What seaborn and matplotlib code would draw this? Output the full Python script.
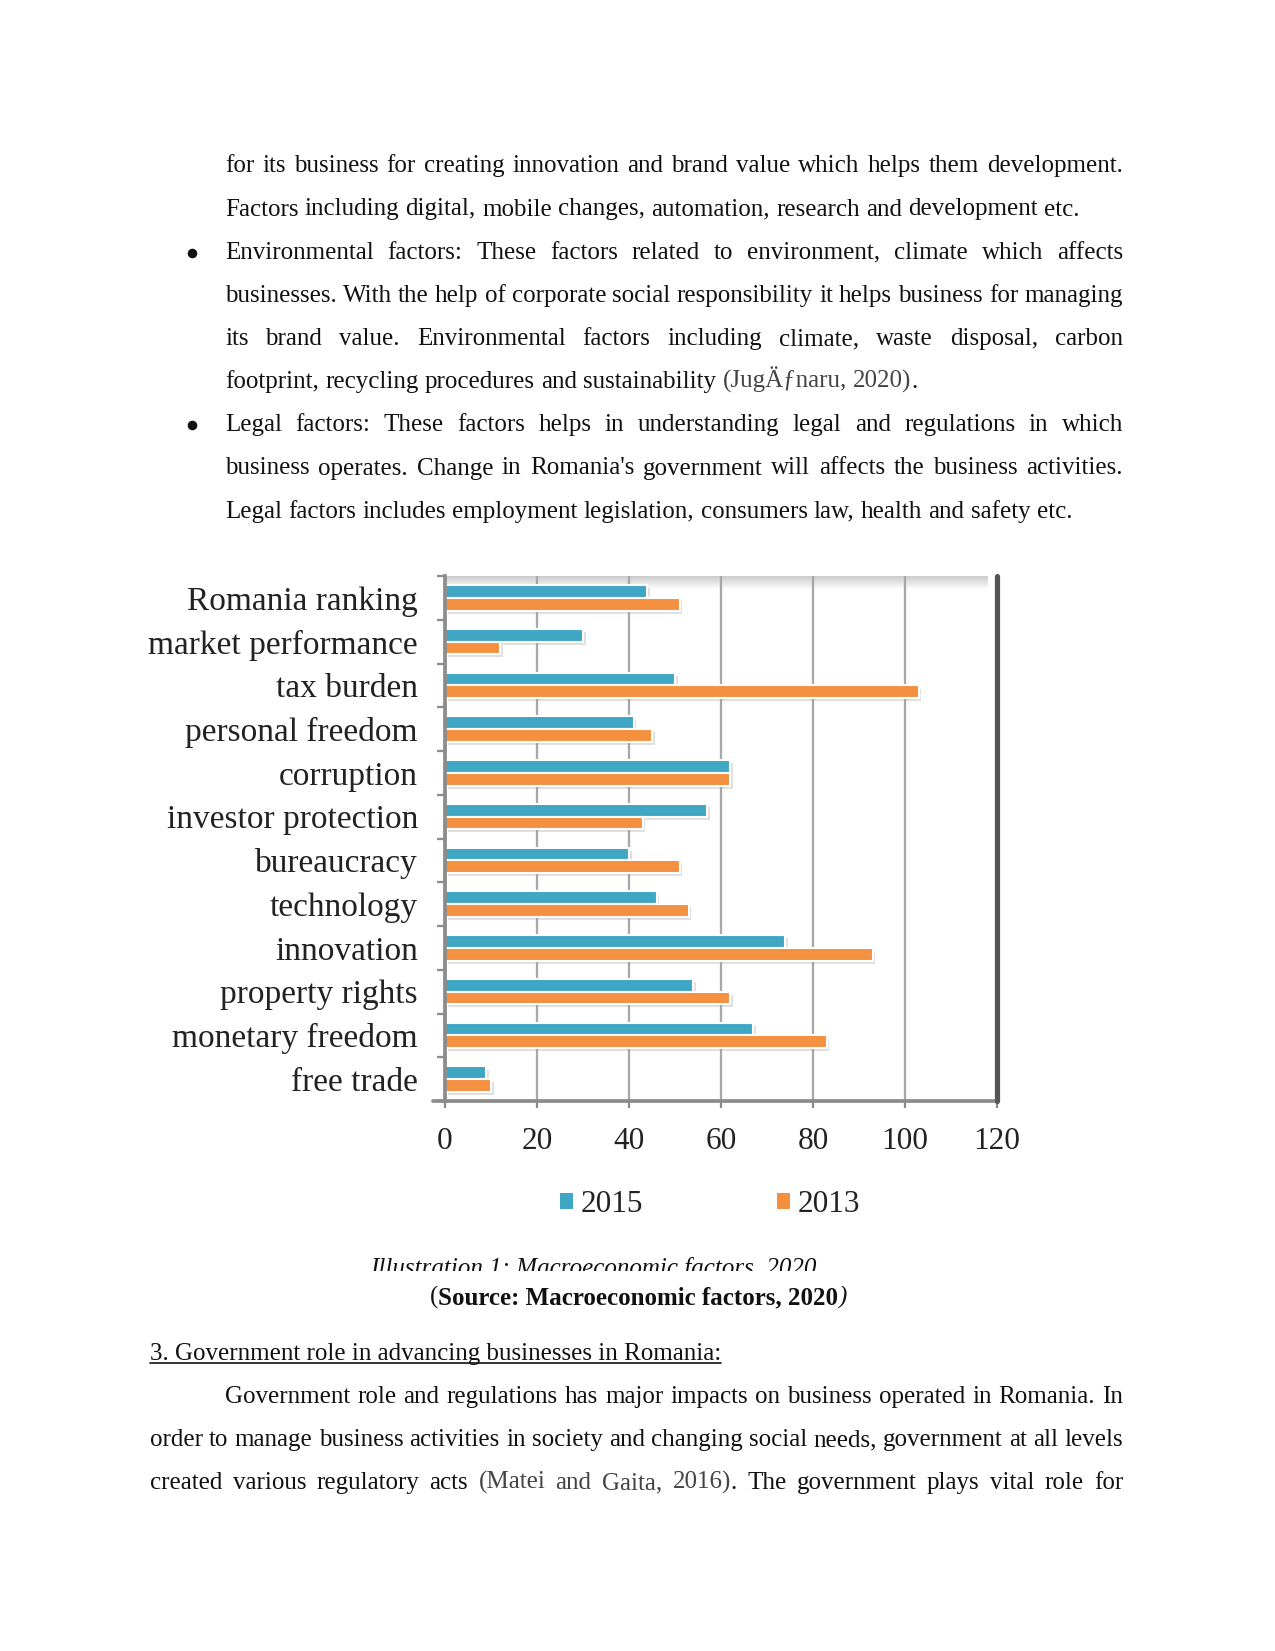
import numpy as np
import pandas as pd
import matplotlib
matplotlib.use("Agg")
import matplotlib.pyplot as plt
import matplotlib.patheffects as pe
from matplotlib.patches import Patch, Rectangle
from matplotlib.lines import Line2D
import seaborn as sns

sns.set_theme(style="white")
plt.rcParams['font.family'] = 'Liberation Serif'

# data
factors = ['Romania ranking', 'market performance', 'tax burden', 'personal freedom',
           'corruption', 'investor protection', 'bureaucracy', 'technology',
           'innovation', 'property rights', 'monetary freedom', 'free trade']
vals_2015 = [44, 30, 50, 41, 62, 57, 40, 46, 74, 54, 67, 9]
vals_2013 = [51, 12, 103, 45, 62, 43, 51, 53, 93, 62, 83, 10]
years = ['2015', '2013']
x_ticks = [0, 20, 40, 60, 80, 100, 120]

TEAL = '#3fa6c3'
ORANGE = '#f39140'

W, H = 1275, 1651
fig = plt.figure(figsize=(W / 150, H / 150), dpi=150)
fig.patch.set_facecolor('white')


def fx(px):
    return px / W


def fy(py):
    return 1 - py / H


# ---------------- chart ----------------
ax = fig.add_axes([fx(445), fy(1101), (997 - 445) / W, (1101 - 576) / H])

df = pd.DataFrame({
    'factor': factors * 2,
    'value': vals_2015 + vals_2013,
    'year': ['2015'] * len(factors) + ['2013'] * len(factors),
})
sns.barplot(data=df, x='value', y='factor', hue='year', hue_order=years,
            palette=[TEAL, ORANGE], orient='h', width=0.58, errorbar=None,
            saturation=1, legend=False, ax=ax)

for p in ax.patches:
    p.set_path_effects([pe.SimplePatchShadow(offset=(1.2, -1.5), shadow_rgbFace='#9a9a9a', alpha=0.3),
                        pe.Normal()])

# grey top band of the 3d wall
grad = np.linspace(0.80, 1.0, 20).reshape(-1, 1)
ax.imshow(grad, extent=(0, 118, -0.18, -0.48), cmap='gray', vmin=0, vmax=1,
          aspect='auto', zorder=0.5, interpolation='bilinear')

ax.set_xlim(0, 120)
ax.set_ylim(11.5, -0.48)
ax.set_xticks(x_ticks)
ax.set_xlabel('')
ax.set_ylabel('')
ax.grid(axis='x', color='#a8a8a8', lw=1.1)
ax.set_axisbelow(True)
ax.axvline(120, color='#555555', lw=2.5, clip_on=False, zorder=3)

for s in ['top', 'right']:
    ax.spines[s].set_visible(False)
for s in ['left', 'bottom']:
    ax.spines[s].set_color('#8c8c8c')
    ax.spines[s].set_linewidth(1.8)
ax.add_line(Line2D([-0.022, 0], [0, 0], transform=ax.transAxes, color='#8c8c8c',
                   lw=1.8, clip_on=False))

ax.tick_params(axis='x', bottom=True, length=3.5, width=1.1, color='#8c8c8c', pad=9,
               labelsize=15, labelcolor='#222222')
ax.tick_params(axis='y', which='major', left=False, length=0, pad=13,
               labelsize=16, labelcolor='#222222')
ax.set_yticks(np.arange(-0.5, 12, 1), minor=True)
ax.tick_params(axis='y', which='minor', left=True, length=4, width=1.1, color='#8c8c8c')

handles = [Patch(facecolor=TEAL, edgecolor='none'), Patch(facecolor=ORANGE, edgecolor='none')]
ax.legend(handles, years, loc='center', bbox_to_anchor=(fx(710), fy(1205)),
          bbox_transform=fig.transFigure, ncol=2, frameon=False, fontsize=15,
          handlelength=0.4, handleheight=0.4, handletextpad=0.25, columnspacing=4.3,
          labelcolor='#222222')

# ---------------- page text ----------------
BODY = dict(fontsize=12, color='#111111')
CITE = dict(fontsize=12, color='#444444')
renderer = fig.canvas.get_renderer()


def width_of(s, props):
    t = fig.text(0, 0, s, **props)
    w = t.get_window_extent(renderer).width
    t.remove()
    return w


SPACE = width_of('a a', BODY) - width_of('aa', BODY)


def words_of(s, props=BODY):
    return [[(w, props)] for w in s.split()]


def put_line(words, y, x0, x1=None):
    widths = [[width_of(s, p) for s, p in word] for word in words]
    total = sum(sum(ws) for ws in widths)
    if x1 is not None and len(words) > 1:
        gap = (x1 - x0 - total) / (len(words) - 1)
    else:
        gap = SPACE
    x = x0
    for word, ws in zip(words, widths):
        for (s, p), w in zip(word, ws):
            fig.text(fx(x), fy(y + 7), s, ha='left', va='baseline', **p)
            x += w
        x += gap
    return x - gap


def bullet(y):
    fig.add_artist(Line2D([fx(192)], [fy(y + 1)], transform=fig.transFigure, marker='o',
                          markersize=3.6, color='#111111', linestyle='none'))


L, IND, R = 150, 225, 1123

put_line(words_of('for its business for creating innovation and brand value which helps them development.'), 165, IND, R)
put_line(words_of('Factors including digital, mobile changes, automation, research and development etc.'), 208.5, IND)
bullet(251.6)
put_line(words_of('Environmental factors: These factors related to environment, climate which affects'), 251.6, IND, R)
put_line(words_of('businesses. With the help of corporate social responsibility it helps business for managing'), 294.8, IND, R)
put_line(words_of('its brand value. Environmental factors including climate, waste disposal, carbon'), 338, IND, R)
put_line(words_of('footprint, recycling procedures and sustainability')
         + [[('(Jug\u00c4\u0192naru,', CITE)], [('2020)', CITE), ('.', BODY)]], 381, IND)
bullet(424)
put_line(words_of('Legal factors: These factors helps in understanding legal and regulations in which'), 424, IND, R)
put_line(words_of("business operates. Change in Romania's government will affects the business activities."), 467.5, IND, R)
put_line(words_of('Legal factors includes employment legislation, consumers law, health and safety etc.'), 510.6, IND)

# caption (cut off at the bottom in the original)
fig.text(fx(593), fy(1275), 'Illustration 1: Macroeconomic factors, 2020', ha='center',
         va='baseline', style='italic', fontsize=12, color='#111111')
fig.add_artist(Rectangle((0, fy(1286)), 1, (1286 - 1271) / H, transform=fig.transFigure,
                         facecolor='white', edgecolor='none', zorder=20))

# source line
src = [('(', dict(BODY)), ('Source: Macroeconomic factors, 2020', dict(BODY, weight='bold')),
       (')', dict(BODY, style='italic'))]
src_w = sum(width_of(s, p) for s, p in src)
put_line([src], 1297, 638 - src_w / 2)

# heading
head = '3. Government role in advancing businesses in Romania:'
x_end = put_line([[(head, BODY)]], 1353, L)
fig.add_artist(Line2D([fx(L), fx(x_end)], [fy(1363), fy(1363)], transform=fig.transFigure,
                      color='#111111', lw=0.8))

put_line(words_of('Government role and regulations has major impacts on business operated in Romania. In'), 1396, IND, R)
put_line(words_of('order to manage business activities in society and changing social needs, government at all levels'), 1439, L, R)
put_line(words_of('created various regulatory acts')
         + [[('(Matei', CITE)], [('and', CITE)], [('Gaita,', CITE)], [('2016)', CITE), ('.', BODY)]]
         + words_of('The government plays vital role for'), 1482, L, R)

fig.savefig('out.png', dpi=150, facecolor='white')
